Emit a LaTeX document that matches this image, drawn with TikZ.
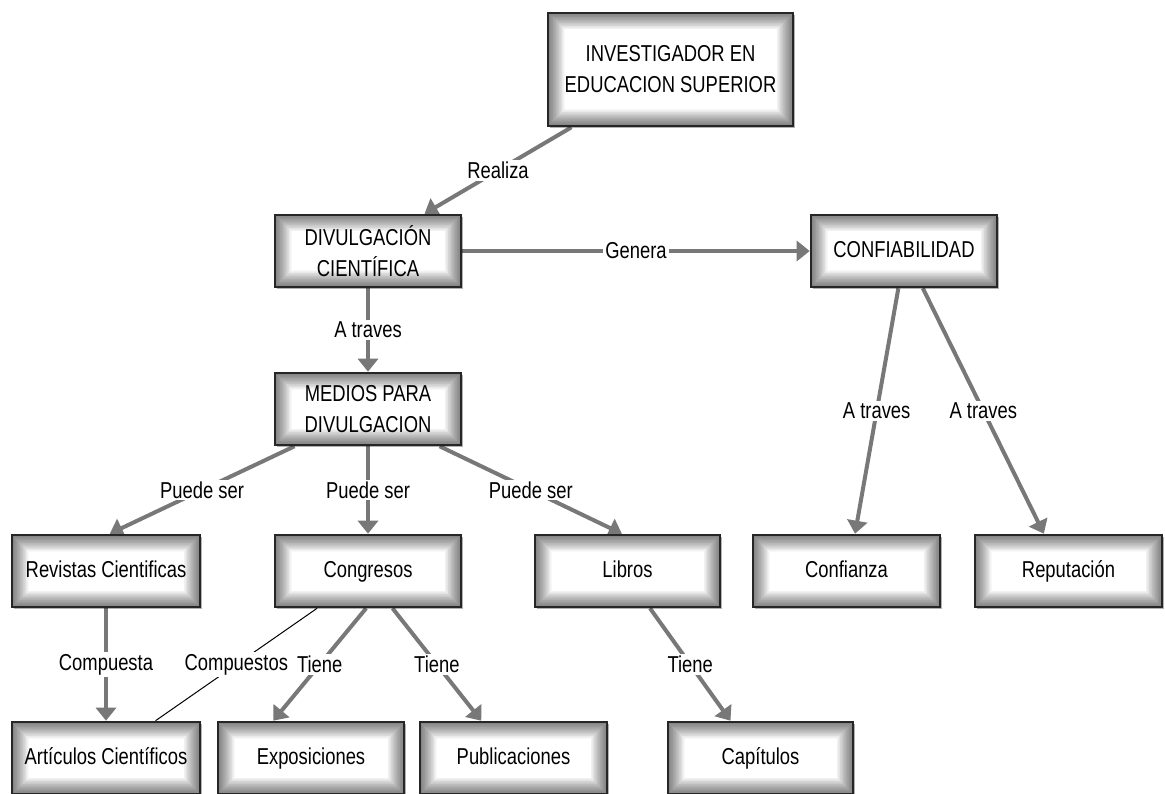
\documentclass[tikz,border=0pt]{standalone}
\usepackage{fontspec}
\setmainfont{Liberation Sans}[FakeStretch=0.8]
\usetikzlibrary{arrows.meta,calc,shadows}
\definecolor{edgegray}{RGB}{120,120,120}
\pgfdeclarelayer{background}
\pgfsetlayers{background,main}
\begin{document}
\begin{tikzpicture}[x=1pt,y=-1pt,
  box/.style={draw=black!85, line width=2.6pt, fill=white, align=center, inner sep=2pt,
    minimum width=186pt, minimum height=72pt, font=\fontsize{23}{31}\selectfont,
    drop shadow={shadow xshift=2pt, shadow yshift=-2pt, fill=black, opacity=0.3},
    path picture={\foreach \w in {3,4.5,...,33}
      \draw[line width=\w pt, black, opacity=0.028]
        (path picture bounding box.south west) rectangle (path picture bounding box.north east);}},
  oneline/.style={box, execute at begin node=\strut, execute at end node=\strut},
  link/.style={draw=edgegray, line width=4pt, -{Triangle[length=13pt,width=20pt]}},
  thinlink/.style={draw=black, line width=1pt},
  lbl/.style={fill=white, inner sep=2pt, font=\fontsize{23}{26}\selectfont, text=black}
]
\useasboundingbox (0,0) rectangle (1165,794);

% concept boxes
\node[box, minimum width=245pt, minimum height=113pt] (inv) at (670.5,69.5) {INVESTIGADOR EN\\EDUCACION SUPERIOR};
\node[box] (div)  at (368,251)  {DIVULGACIÓN\\CIENTÍFICA};
\node[oneline] (conf) at (904,251)  {CONFIABILIDAD};
\node[box] (med)  at (368,409)  {MEDIOS PARA\\DIVULGACION};
\node[oneline, minimum width=188pt] (rev)   at (106,571)    {Revistas Cientificas};
\node[oneline] (cong) at (368,571)  {Congresos};
\node[oneline, minimum width=185pt] (lib)   at (627.5,571)  {Libros};
\node[oneline, minimum width=187pt] (confz) at (846.5,571)  {Confianza};
\node[oneline, minimum width=187pt] (rep)   at (1068.5,571) {Reputación};
\node[oneline, minimum width=188pt] (art)   at (106,758)    {Artículos Científicos};
\node[oneline] (expo) at (311,758)  {Exposiciones};
\node[oneline, minimum width=187pt] (pub)   at (513.5,758)  {Publicaciones};
\node[oneline, minimum width=185pt] (cap)   at (760.5,758)  {Capítulos};

% connectors
\begin{pgfonlayer}{background}
\draw[link] ($(inv.south west)!0.1!(inv.south east)$) -- node[lbl]{Realiza} ($(div.north west)!0.8!(div.north east)$);
\draw[link] (div.east) -- node[lbl]{Genera} (conf.west);
\draw[link] (div.south) -- node[lbl]{A traves} (med.north);
\draw[link] ($(med.south west)!0.11!(med.south east)$) -- node[lbl]{Puede ser} ($(rev.north west)!0.52!(rev.north east)$);
\draw[link] (med.south) -- node[lbl]{Puede ser} (cong.north);
\draw[link] ($(med.south west)!0.88!(med.south east)$) -- node[lbl]{Puede ser} ($(lib.north west)!0.47!(lib.north east)$);
\draw[link] ($(conf.south west)!0.47!(conf.south east)$) -- node[lbl]{A traves} ($(confz.north west)!0.545!(confz.north east)$);
\draw[link] ($(conf.south west)!0.6!(conf.south east)$) -- node[lbl]{A traves} ($(rep.north west)!0.37!(rep.north east)$);
\draw[link] (rev.south) -- node[lbl]{Compuesta} (art.north);
\draw[thinlink] ($(cong.south west)!0.23!(cong.south east)$) -- node[lbl]{Compuestos} ($(art.north west)!0.76!(art.north east)$);
\draw[link] ($(cong.south west)!0.49!(cong.south east)$) -- node[lbl]{Tiene} ($(expo.north west)!0.3!(expo.north east)$);
\draw[link] ($(cong.south west)!0.63!(cong.south east)$) -- node[lbl]{Tiene} ($(pub.north west)!0.33!(pub.north east)$);
\draw[link] ($(lib.south west)!0.62!(lib.south east)$) -- node[lbl]{Tiene} ($(cap.north west)!0.34!(cap.north east)$);
\end{pgfonlayer}
\end{tikzpicture}
\end{document}
